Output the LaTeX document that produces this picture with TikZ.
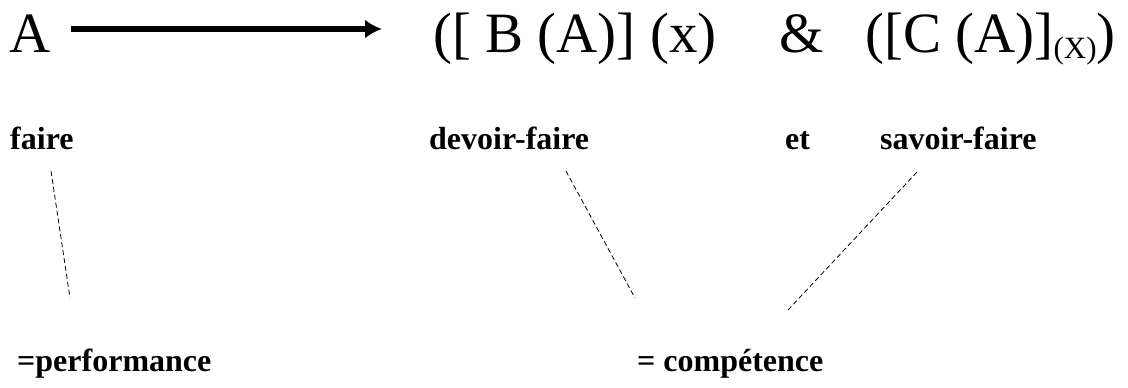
\documentclass[tikz,border=0pt]{standalone}
\usepackage{fontspec}
\setmainfont{Liberation Serif}
\usetikzlibrary{positioning, arrows.meta}
\tikzset{
	Arrow/.style={line width=5.5pt, -{Latex[length=17pt,width=19pt]}},
	Link/.style={line width=0.8pt, dash pattern=on 5pt off 3pt},
	big/.style={inner sep=0pt, anchor=base west, font=\fontsize{57}{60}\selectfont},
	lab/.style={inner sep=0pt, anchor=base west, font=\fontsize{32}{34}\selectfont\bfseries}
}

\begin{document}
\begin{tikzpicture}[x=1pt, y=-1pt]
	\useasboundingbox (0,0) rectangle (1128,388);
	
	\node[big] (a) at (9,52) {A};
	\node[big] (expr1) at (433,52) {([ B (A)] (x)};
	\node[big] (amp) at (779,52) {\&};
	\node[big] (expr2) at (865,52) {([C (A)]\raisebox{-6pt}{\fontsize{31}{32}\selectfont(X)})};
	
	\node[lab] (faire) at (10,149) {faire};
	\node[lab] (devoir) at (429,149) {devoir-faire};
	\node[lab] (et) at (785,149) {et};
	\node[lab] (savoir) at (880,149) {savoir-faire};
	\node[lab] (perf) at (17,371) {=performance};
	\node[lab] (comp) at (637,371) {= compétence};
	
	% free ends of the dashed links
	\coordinate (f1) at (51,171);
	\coordinate (f2) at (70,298);
	\coordinate (d1) at (566,171);
	\coordinate (d2) at (635,298);
	\coordinate (s1) at (917,172);
	\coordinate (s2) at (788,310);
	
	\draw[Arrow] ([xshift=20pt, yshift=23pt]a.base east) -- ([xshift=-51pt, yshift=23pt]expr1.base west);
	\draw[Link] (f1) -- (f2);
	\draw[Link] (d1) -- (d2);
	\draw[Link] (s1) -- (s2);
\end{tikzpicture}
\end{document}
